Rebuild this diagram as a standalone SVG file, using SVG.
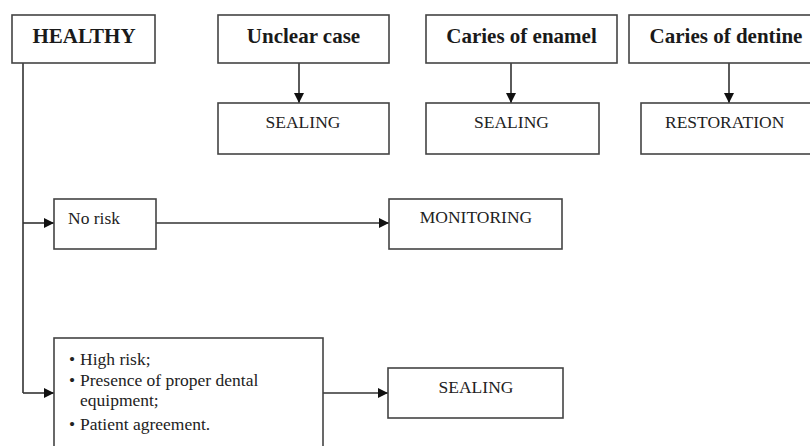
<svg xmlns="http://www.w3.org/2000/svg" width="810" height="446" viewBox="0 0 810 446">
<defs>
<marker id="ah" viewBox="0 0 10 10" refX="10" refY="5" markerWidth="10" markerHeight="10" markerUnits="userSpaceOnUse" orient="auto">
<path d="M0,0 L10,5 L0,10 Z" fill="#111"/>
</marker>
<style>
.box{fill:#fff;stroke:#444;stroke-width:1.6}
.hd{font-family:"Liberation Serif","Times New Roman",serif;font-weight:bold;font-size:21px;fill:#1a1a1a;text-anchor:middle}
.tx{font-family:"Liberation Serif","Times New Roman",serif;font-size:17.5px;fill:#222}
.c{text-anchor:middle}
.ln{fill:none;stroke:#333;stroke-width:1.6}
</style>
</defs>
<rect width="810" height="446" fill="#fff"/>
<g id="connectors">
<path class="ln" d="M23,63 V393"/>
<path class="ln" d="M23,223 H54" marker-end="url(#ah)"/>
<path class="ln" d="M23,393 H54" marker-end="url(#ah)"/>
<path class="ln" d="M156,223 H389" marker-end="url(#ah)"/>
<path class="ln" d="M323,393 H388" marker-end="url(#ah)"/>
<path class="ln" d="M299,63 V103" marker-end="url(#ah)"/>
<path class="ln" d="M511,63 V103" marker-end="url(#ah)"/>
<path class="ln" d="M729,63 V103" marker-end="url(#ah)"/>
</g>
<g id="healthy">
<rect class="box" x="12" y="15" width="143" height="48"/>
<text class="hd" x="84" y="43">HEALTHY</text>
</g>
<g id="unclear">
<rect class="box" x="218" y="15" width="171" height="48"/>
<text class="hd" x="303.5" y="43">Unclear case</text>
</g>
<g id="enamel">
<rect class="box" x="426" y="15" width="191" height="48"/>
<text class="hd" x="521.5" y="43">Caries of enamel</text>
</g>
<g id="dentine">
<rect class="box" x="629" y="15" width="200" height="48"/>
<text class="hd" x="726" y="43">Caries of dentine</text>
</g>
<g id="sealing1">
<rect class="box" x="218" y="103" width="171" height="51"/>
<text class="tx c" x="303" y="128">SEALING</text>
</g>
<g id="sealing2">
<rect class="box" x="426" y="103" width="173" height="51"/>
<text class="tx c" x="511.5" y="128">SEALING</text>
</g>
<g id="restoration">
<rect class="box" x="641" y="103" width="190" height="51"/>
<text class="tx" x="665" y="128">RESTORATION</text>
</g>
<g id="norisk">
<rect class="box" x="54" y="199" width="102" height="50"/>
<text class="tx" x="68" y="224">No risk</text>
</g>
<g id="monitoring">
<rect class="box" x="389" y="199" width="173" height="50"/>
<text class="tx c" x="476" y="223">MONITORING</text>
</g>
<g id="conditions">
<rect class="box" x="54" y="338" width="269" height="115"/>
<text class="tx"><tspan x="69" y="365">•</tspan><tspan x="80" y="365">High risk;</tspan><tspan x="69" y="386">•</tspan><tspan x="80" y="386">Presence of proper dental</tspan><tspan x="80" y="406">equipment;</tspan><tspan x="69" y="430">•</tspan><tspan x="80" y="430">Patient agreement.</tspan></text>
</g>
<g id="sealing3">
<rect class="box" x="388" y="368" width="175" height="50"/>
<text class="tx c" x="476" y="393">SEALING</text>
</g>
</svg>
